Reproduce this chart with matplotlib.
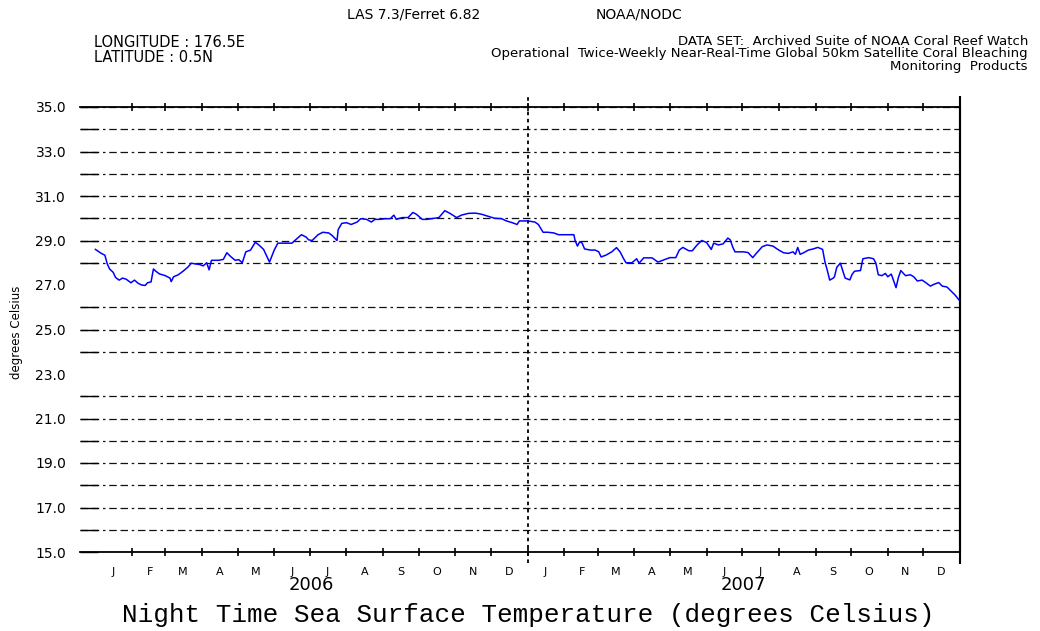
import numpy as np
import matplotlib
matplotlib.use("Agg")
import matplotlib.pyplot as plt
import matplotlib.dates as mdates
import matplotlib.transforms as mtransforms
from matplotlib.ticker import FixedLocator, FixedFormatter, NullFormatter

# night time SST at 176.5E, 0.5N, twice-weekly, days counted from 2006-01-01
day_offsets = [
    0, 5, 8, 10, 12, 15, 17, 20, 23, 26, 30, 33, 36, 39, 42, 44, 47, 49, 51, 54,
    59, 63, 64, 66, 70, 74, 78, 81, 84, 88, 91, 94, 96, 98, 104, 108, 111, 114, 118, 121,
    124, 127, 131, 135, 138, 142, 147, 151, 154, 160, 166, 169, 174, 178,
    180, 183, 188, 192, 197, 200, 204, 205, 208, 212, 216, 221, 224, 229, 233, 236,
    240, 245, 249, 252, 254, 259, 264, 268, 271, 276, 280, 284, 290, 295, 299, 305,
    309, 315, 321, 326, 332, 337, 343, 347, 352, 356, 358,
    365, 371, 374, 378, 382, 387, 391, 397, 404, 405, 407, 409, 411, 413, 418, 422,
    425, 427, 431, 436, 440, 443, 446, 448, 453, 457, 459, 463, 470, 475, 479, 485,
    490, 493, 496, 501, 504, 508, 512, 516, 520, 522, 526, 530, 534, 536, 538, 540, 547,
    551, 555, 558, 563, 567, 572, 577, 581, 585, 589, 591, 593, 595, 598, 602, 606,
    610, 614, 616, 618, 620, 623, 624, 626, 629, 631, 633, 637, 639, 641, 646, 648,
    653, 657, 659, 661, 664, 667, 669, 672, 674, 676, 678, 680, 684, 688, 691, 694,
    698, 701, 705, 708, 712, 715, 719, 722, 726, 729,
]
sst = [
    28.6, 28.42, 28.34, 27.95, 27.72, 27.57, 27.34, 27.22, 27.31, 27.26,
    27.1, 27.22, 27.08, 27.0, 26.98, 27.1, 27.14, 27.72, 27.62, 27.5,
    27.42, 27.31, 27.15, 27.37, 27.46, 27.62, 27.8, 27.98, 27.95, 27.92,
    27.86, 28.0, 27.68, 28.11, 28.11, 28.15, 28.45, 28.29, 28.11, 28.14,
    28.0, 28.49, 28.57, 28.92, 28.8, 28.6, 28.03, 28.57, 28.88, 28.88,
    28.88, 29.03, 29.26, 29.15,
    29.03, 29.0, 29.26, 29.37, 29.34, 29.22, 29.0, 29.49, 29.77, 29.8,
    29.72, 29.83, 29.98, 29.95, 29.83, 29.95, 29.95, 29.98, 29.98, 30.14,
    29.95, 30.03, 30.03, 30.26, 30.18, 29.95, 29.95, 29.98, 30.03, 30.34,
    30.23, 30.03, 30.14, 30.22, 30.23, 30.18, 30.08, 30.0, 29.98, 29.88,
    29.8, 29.72, 29.88,
    29.88, 29.83, 29.72, 29.37, 29.37, 29.34, 29.26, 29.26, 29.26, 29.0,
    28.75, 28.95, 28.88, 28.62, 28.57, 28.57, 28.49, 28.26, 28.34, 28.49,
    28.68, 28.49, 28.18, 28.0, 28.0, 28.18, 27.98, 28.22, 28.22, 28.03,
    28.11, 28.23, 28.23, 28.57, 28.69, 28.54, 28.54, 28.8, 29.0, 28.91,
    28.6, 28.88, 28.8, 28.85, 29.11, 29.03, 28.72, 28.49, 28.49,
    28.46, 28.23, 28.42, 28.72, 28.8, 28.75, 28.57, 28.45, 28.42, 28.49,
    28.38, 28.69, 28.38, 28.45, 28.57, 28.62, 28.69, 28.6, 28.03, 27.65,
    27.22, 27.31, 27.37, 27.8, 27.98, 27.65, 27.31, 27.23, 27.49, 27.62,
    27.65, 28.18, 28.23, 28.18, 27.98, 27.46, 27.42, 27.52, 27.37, 27.49,
    27.18, 26.88, 27.34, 27.65, 27.42, 27.46, 27.37, 27.18, 27.22, 27.11,
    26.95, 27.03, 27.11, 26.95, 26.91, 26.75, 26.54, 26.34,
]

month_letters = ["J", "F", "M", "A", "M", "J", "J", "A", "S", "O", "N", "D"]
years = ["2006", "2007"]
y_labeled = [15, 17, 19, 21, 23, 25, 27, 29, 31, 33, 35]
# levels that get a tick + dashed line (23 and 27 have none in the original)
y_grid = [15, 16, 17, 18, 19, 20, 21, 22, 24, 25, 26, 28, 29, 30, 31, 32, 33, 34, 35]

plt.rcParams["font.family"] = "DejaVu Sans"

start = np.datetime64("2006-01-01")
dates = start + np.array(day_offsets).astype("timedelta64[D]")

fig = plt.figure(figsize=(10.4, 6.31), dpi=100)
ax = fig.add_axes([80 / 1040, 1 - 552 / 631, 880 / 1040, 445 / 631])

ax.plot(dates, sst, color="#0000ff", lw=1.1, zorder=3)

x0 = mdates.date2num(np.datetime64("2005-12-19"))
x1 = mdates.date2num(np.datetime64("2008-01-01"))
ax.set_xlim(x0, x1)
ax.set_ylim(15, 35)

# month ticks / labels
month_starts = np.arange("2006-02", "2008-01", dtype="datetime64[M]").astype("datetime64[D]")
mid_months = np.arange("2006-01", "2008-01", dtype="datetime64[M]").astype("datetime64[D]") + 15
ax.xaxis.set_major_locator(FixedLocator(mdates.date2num(month_starts)))
ax.xaxis.set_major_formatter(NullFormatter())
ax.xaxis.set_minor_locator(FixedLocator(mdates.date2num(mid_months)))
ax.xaxis.set_minor_formatter(FixedFormatter(month_letters * 2))
ax.tick_params(axis="x", which="major", direction="inout", length=6, width=1.2, top=True)
ax.tick_params(axis="x", which="minor", length=0, pad=11, labelsize=8)

# y: labels on major (no marks), marks + dashed lines on minor
ax.yaxis.remove_overlapping_locs = False
ax.yaxis.set_major_locator(FixedLocator(y_labeled))
ax.yaxis.set_major_formatter(FixedFormatter([f"{v:.1f}" for v in y_labeled]))
ax.yaxis.set_minor_locator(FixedLocator(y_grid))
ax.tick_params(axis="y", which="major", length=0, pad=10, labelsize=10)
ax.tick_params(axis="y", which="minor", direction="in", length=13, width=1.0)
ax.grid(True, which="minor", axis="y", color="#111111", linewidth=0.9,
        linestyle=(0, (6, 3, 6, 3, 2, 3)))

for s in ["top", "bottom"]:
    ax.spines[s].set_linewidth(1.3)
ax.spines["left"].set_visible(False)
ax.spines["right"].set_linewidth(1.5)

# year boundary and right frame line running past the axes
ax.axvline(mdates.date2num(np.datetime64("2007-01-01")), color="black", lw=1.3,
           ls=(0, (2, 2)), ymin=-0.025, ymax=1.022, clip_on=False)
ax.axvline(x1, color="black", lw=1.5, ymin=-0.025, ymax=1.022, clip_on=False)

trans = mtransforms.blended_transform_factory(ax.transData, ax.transAxes)
for yr in years:
    mid = mdates.date2num(np.datetime64(f"{yr}-07-02"))
    ax.text(mid, -0.074, yr, transform=trans, ha="center", va="center", fontsize=13)

# header texts
fig.text(347 / 1040, 1 - 14 / 631, "LAS 7.3/Ferret 6.82", va="center", fontsize=10)
fig.text(596 / 1040, 1 - 14 / 631, "NOAA/NODC", va="center", fontsize=10)
fig.text(94 / 1040, 1 - 50 / 631, "LONGITUDE : 176.5E\nLATITUDE : 0.5N", va="center",
         fontsize=10.5, linespacing=1.05)
fig.text(1028 / 1040, 1 - 54 / 631,
         "DATA SET:  Archived Suite of NOAA Coral Reef Watch\n"
         "Operational  Twice-Weekly Near-Real-Time Global 50km Satellite Coral Bleaching\n"
         "Monitoring  Products",
         ha="right", va="center", multialignment="right", fontsize=9.5, linespacing=0.95)

fig.text(17 / 1040, 1 - 332 / 631, "degrees Celsius", rotation=90, ha="center", va="center",
         fontsize=8.5)
fig.text(0.508, 1 - 615 / 631, "Night Time Sea Surface Temperature (degrees Celsius)",
         family="Liberation Mono", fontsize=18.7, ha="center", va="center")

fig.savefig("out.png", dpi=100)
